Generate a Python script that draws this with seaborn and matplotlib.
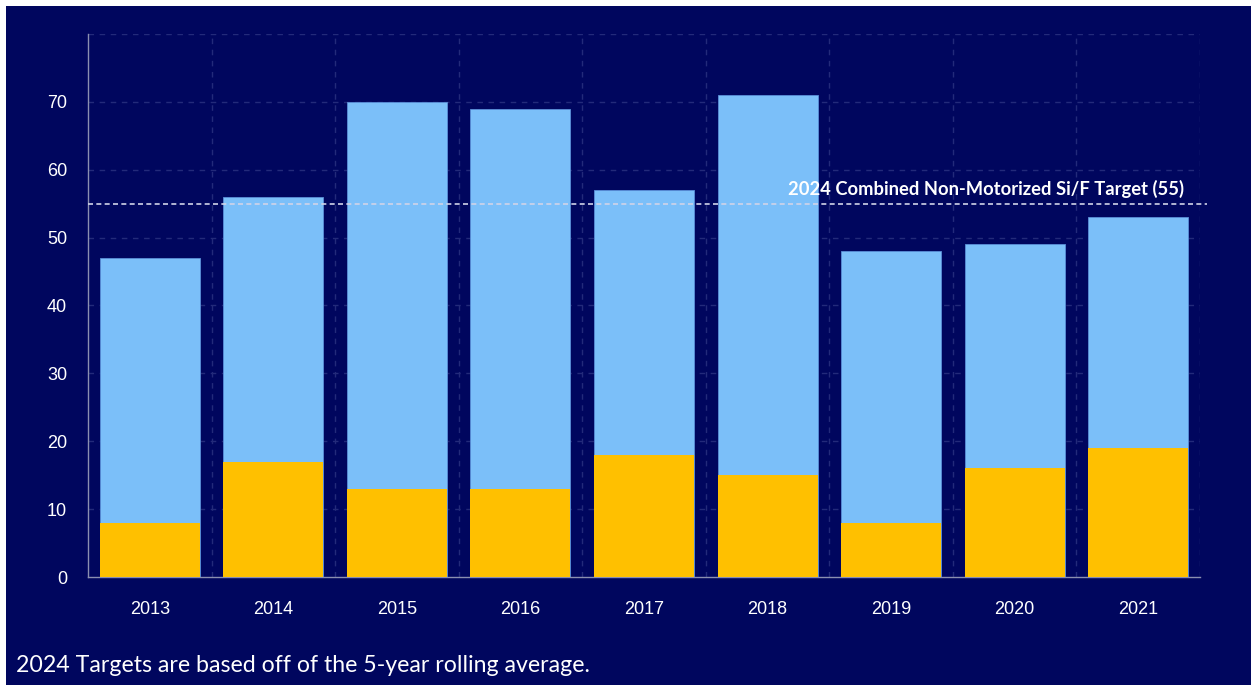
import matplotlib
matplotlib.use('Agg')
import matplotlib.pyplot as plt
import seaborn as sns
import pandas as pd
from matplotlib.patches import Rectangle

# data
years = ['2013', '2014', '2015', '2016', '2017', '2018', '2019', '2020', '2021']
fatalities = [8, 17, 13, 13, 18, 15, 8, 16, 19]
serious_injuries = [39, 39, 57, 56, 39, 56, 40, 33, 34]
target = 55
target_label = '2024 Combined Non-Motorized Si/F Target (55)'
footnote = '2024 Targets are based off of the 5-year rolling average.'

NAVY = '#00065e'
LIGHT_BLUE = '#7bbff9'
YELLOW = '#ffc000'
GRID = '#232a7a'
AXIS = '#8a8fb0'

df = pd.DataFrame({'year': years, 'fatal': fatalities, 'serious': serious_injuries})
df['total'] = df['fatal'] + df['serious']

sns.set_theme(style='dark')
plt.rcParams['font.family'] = ['Liberation Sans', 'DejaVu Sans']

fig = plt.figure(figsize=(12.51, 6.85), dpi=100)
fig.patch.set_facecolor('white')
# navy panel with thin white border top/left
fig.add_artist(Rectangle((6 / 1251, 0), 1, 1 - 6 / 685, transform=fig.transFigure,
                         facecolor=NAVY, edgecolor='none', zorder=0))

ax = fig.add_axes([88 / 1251, 108 / 685, (1200 - 88) / 1251, (577 - 34) / 685])
ax.set_facecolor(NAVY)

# stacked bars: total first, fatalities over it
sns.barplot(data=df, x='year', y='total', color=LIGHT_BLUE, width=0.81,
            saturation=1, ax=ax, zorder=3, edgecolor='#5a8fd8', linewidth=0.6)
sns.barplot(data=df, x='year', y='fatal', color=YELLOW, width=0.81,
            saturation=1, ax=ax, zorder=4, linewidth=0)

ax.set_ylim(0, 80)
ax.set_xlim(-0.5, len(years) - 0.5)
ax.set_yticks(range(0, 80, 10))
ax.set_xlabel('')
ax.set_ylabel('')

# dashed grid: horizontal every 10, vertical between categories
for v in range(10, 90, 10):
    ax.axhline(v, color=GRID, linestyle=(0, (4, 4)), linewidth=1, zorder=1)
for b in range(1, len(years) + 1):
    ax.axvline(b - 0.5, color=GRID, linestyle=(0, (4, 4)), linewidth=1, zorder=1)
ax.grid(False)

for s in ['top', 'right']:
    ax.spines[s].set_visible(False)
for s in ['left', 'bottom']:
    ax.spines[s].set_color(AXIS)
    ax.spines[s].set_linewidth(1)

ax.tick_params(axis='both', colors=AXIS, labelcolor='white', labelsize=13,
               length=7, width=1, direction='out')
ax.tick_params(axis='x', pad=10)
ax.tick_params(axis='y', pad=8)

# target line and label
ax.axhline(target, xmin=0, xmax=1.006, color='#d0d3e8', linestyle=(0, (3, 2)),
           linewidth=1.2, zorder=5, clip_on=False)
ax.text(8.37, target + 0.9, target_label, ha='right', va='bottom', color='white',
        fontsize=13.2, fontweight='bold', family=['Lato', 'DejaVu Sans'], zorder=6)

fig.text(16 / 1251, 1 - 666 / 685, footnote, ha='left', va='center', color='white',
         fontsize=16.7, family=['Lato', 'DejaVu Sans'])

fig.savefig('out.png', dpi=100, facecolor=fig.get_facecolor())
